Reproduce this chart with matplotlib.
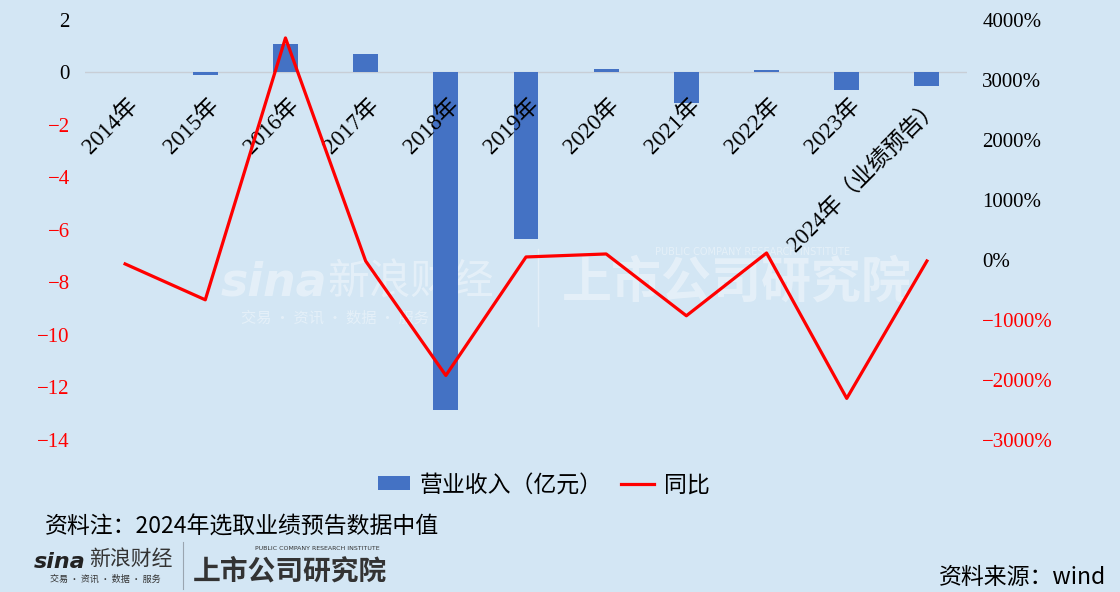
import matplotlib.pyplot as plt
import numpy as np

plt.rcParams['font.family'] = ['Liberation Serif', 'Noto Sans CJK SC', 'DejaVu Sans']
plt.rcParams['axes.unicode_minus'] = True

years = ['2014年', '2015年', '2016年', '2017年', '2018年', '2019年',
         '2020年', '2021年', '2022年', '2023年', '2024年（业绩预告）']
revenue = [0.0, -0.08, 1.07, 0.69, -12.84, -6.36, 0.15, -1.18, 0.08, -0.65, -0.5]
yoy = [-66, -664, 3700, -17, -1925, 50, 100, -930, 116, -2307, -17]

BG = '#D3E6F4'
BLUE = '#4472C4'
RED = '#FF0000'
CJK = ['Noto Sans CJK SC', 'DejaVu Sans']


def color_ticks(ax_labels, values):
    for lab, v in zip(ax_labels, values):
        lab.set_color(RED if v < 0 else 'black')


def watermark(ax):
    kw = dict(transform=ax.figure.transFigure, color='white', alpha=0.4,
              va='center', zorder=1)
    ax.text(0.197, 0.522, 'sina', fontsize=33, style='italic', weight='bold',
            family='DejaVu Sans', **kw)
    ax.text(0.292, 0.522, '新浪财经', fontsize=30, family=CJK, **kw)
    ax.text(0.215, 0.463, '交易 · 资讯 · 数据 · 服务', fontsize=11, family=CJK, **kw)
    ax.text(0.502, 0.522, '上市公司研究院', fontsize=36, weight='bold',
            style='italic', family=CJK, **kw)
    ax.text(0.585, 0.575, 'PUBLIC COMPANY RESEARCH INSTITUTE', fontsize=7,
            family='DejaVu Sans', **kw)
    ax.add_line(plt.Line2D([0.480, 0.480], [0.45, 0.58], color='white',
                           alpha=0.4, lw=1, transform=ax.figure.transFigure,
                           zorder=1))


def main():
    fig = plt.figure(figsize=(11.2, 5.92), dpi=100, facecolor=BG)
    ax = fig.add_axes([0.0759, 0.2568, 0.7875, 0.7095])
    ax.set_facecolor(BG)
    ax2 = ax.twinx()

    x = np.arange(len(years))
    bars = ax.bar(x, revenue, width=0.31, color=BLUE, zorder=2)
    ax.axhline(0, color='#C8CED6', lw=1, zorder=1.5)
    line, = ax2.plot(x, yoy, color=RED, lw=2.3, zorder=3)
    watermark(ax)

    ax.set_xlim(-0.5, len(years) - 0.5)
    ax.set_ylim(-14, 2)
    ax2.set_ylim(-3000, 4000)

    left_ticks = np.arange(-14, 3, 2)
    ax.set_yticks(left_ticks)
    ax.set_yticklabels([str(t) if t >= 0 else '\u2212' + str(-t) for t in left_ticks],
                       fontsize=15)
    color_ticks(ax.get_yticklabels(), left_ticks)

    right_ticks = np.arange(-3000, 4001, 1000)
    ax2.set_yticks(right_ticks)
    ax2.set_yticklabels([f'{t}%' if t >= 0 else f'\u2212{-t}%' for t in right_ticks],
                        fontsize=15)
    color_ticks(ax2.get_yticklabels(), right_ticks)

    ax.set_xticks([])
    for xi, name in zip(x, years):
        ax.text(xi + 0.03, -0.85, name, rotation=45, ha='right', va='top',
                rotation_mode='anchor', fontsize=16.5,
                family=['Liberation Serif', 'Noto Sans CJK SC'], zorder=4)

    for a in (ax, ax2):
        for s in a.spines.values():
            s.set_visible(False)
    ax.tick_params(length=0, pad=11)
    ax2.tick_params(length=0, pad=11)

    ax.legend([bars, line], ['营业收入（亿元）', '同比'], loc='upper center',
              bbox_to_anchor=(0.52, -0.03), ncol=2, frameon=False,
              prop={'family': CJK, 'size': 16.5}, handlelength=1.4,
              handleheight=0.6, handletextpad=0.45, columnspacing=0.8)

    fig.text(0.040, 0.109, '资料注：2024年选取业绩预告数据中值', fontsize=16.5,
             family=CJK, va='center')
    fig.text(0.988, 0.025, '资料来源：wind', fontsize=16.5, family=CJK,
             ha='right', va='center')

    # bottom logo
    fig.text(0.030, 0.050, 'sina', fontsize=16, style='italic', weight='bold',
             color='#222222', family='DejaVu Sans', va='center')
    fig.text(0.080, 0.055, '新浪财经', fontsize=15, color='#333333',
             family=CJK, va='center')
    fig.text(0.045, 0.022, '交易 · 资讯 · 数据 · 服务', fontsize=6.5,
             color='#333333', family=CJK, va='center')
    fig.add_artist(plt.Line2D([0.163, 0.163], [0.005, 0.085], color='#9AA5B0',
                              lw=0.8, transform=fig.transFigure))
    fig.text(0.172, 0.035, '上市公司研究院', fontsize=20, weight='bold',
             style='italic', color='#333333', family=CJK, va='center')
    fig.text(0.228, 0.073, 'PUBLIC COMPANY RESEARCH INSTITUTE', fontsize=4.5,
             color='#333333', family='DejaVu Sans', va='center')

    plt.savefig('out.png', dpi=100, facecolor=BG)


if __name__ == '__main__':
    main()
